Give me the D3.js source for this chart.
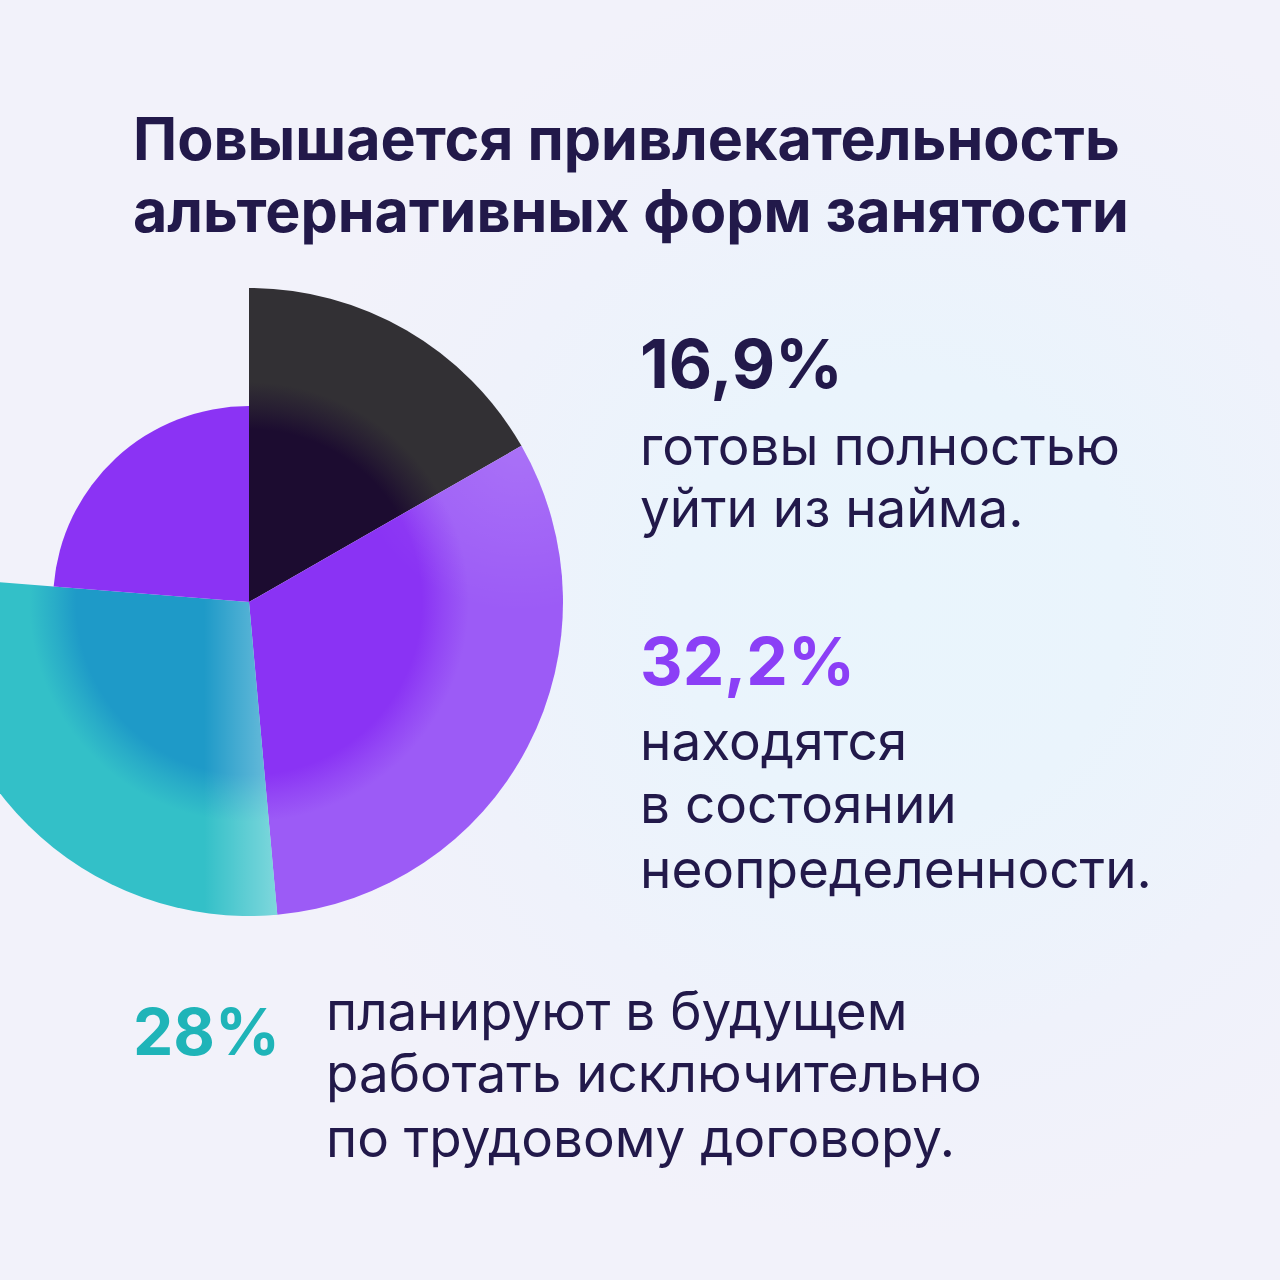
<!DOCTYPE html>
<html>
<head>
<meta charset="utf-8">
<script src="https://cdn.jsdelivr.net/npm/d3@7"></script>
<style>
  html, body { margin: 0; padding: 0; background: #f2f2fa; }
  svg { display: block; font-family: Inter, "Noto Sans", sans-serif; }
</style>
</head>
<body>
<script>
// shares of respondents (last slice is the unlabeled rest)
var categories = ["уйти из найма", "неопределенность", "трудовой договор", "прочие"];
var shares = [16.9, 32.2, 28, 24];
var shareLabels = ["16,9%", "32,2%", "28%"];

var titleLines = ["Повышается привлекательность", "альтернативных форм занятости"];
var note1 = ["готовы полностью", "уйти из найма."];
var note2 = ["находятся", "в состоянии", "неопределенности."];
var note3 = ["планируют в будущем", "работать исключительно", "по трудовому договору."];

var W = 1280, H = 1280;
var cx = 249, cy = 602;
var sliceRadius = [314, 314, 314, 196];
var inner = ["#1c0c30", "#8a33f4", "#1e9ac8", "#8b33f4"];
var outer = ["#323034", "#9c5bf6", "#33c0c8", "#8b33f4"];
var ink = "#22194a";

var svg = d3.select("body").append("svg")
  .attr("width", W)
  .attr("height", H);

var defs = svg.append("defs");

// background glow, kept soft
var bg = defs.append("radialGradient").attr("id", "bgGlow")
  .attr("gradientUnits", "userSpaceOnUse")
  .attr("cx", 900).attr("cy", 600).attr("r", 640);
bg.append("stop").attr("offset", 0).attr("stop-color", "#e9f5fc");
bg.append("stop").attr("offset", 0.35).attr("stop-color", "#eaf4fc");
bg.append("stop").attr("offset", 0.7).attr("stop-color", "#eff2fb");
bg.append("stop").attr("offset", 1).attr("stop-color", "#f2f2fa");

svg.append("rect").attr("width", W).attr("height", H).attr("fill", "#f2f2fa");
svg.append("rect").attr("width", W).attr("height", H).attr("fill", "url(#bgGlow)");

// one radial gradient per slice, dark core fading out
shares.forEach(function(d, i) {
  var g = defs.append("radialGradient").attr("id", "slice" + i)
    .attr("gradientUnits", "userSpaceOnUse")
    .attr("cx", 0).attr("cy", 0).attr("r", 314);
  g.append("stop").attr("offset", 0).attr("stop-color", inner[i]);
  g.append("stop").attr("offset", 0.55).attr("stop-color", inner[i]);
  g.append("stop").attr("offset", 0.62).attr("stop-color", d3.interpolateRgb(inner[i], outer[i])(0.5));
  g.append("stop").attr("offset", 0.7).attr("stop-color", outer[i]);
  g.append("stop").attr("offset", 1).attr("stop-color", outer[i]);
});

// light sheen on the teal slice next to the purple one
var sheen = defs.append("linearGradient").attr("id", "tealSheen")
  .attr("gradientUnits", "userSpaceOnUse")
  .attr("x1", -45).attr("y1", 0).attr("x2", 34).attr("y2", 0);
sheen.append("stop").attr("offset", 0).attr("stop-color", "#ffffff").attr("stop-opacity", 0);
sheen.append("stop").attr("offset", 1).attr("stop-color", "#ffffff").attr("stop-opacity", 0.4);

// sheen on the big purple slice under the dark one
var sheen2 = defs.append("radialGradient").attr("id", "purpleSheen")
  .attr("gradientUnits", "userSpaceOnUse")
  .attr("cx", 270).attr("cy", -160).attr("r", 170);
sheen2.append("stop").attr("offset", 0).attr("stop-color", "#ffffff").attr("stop-opacity", 0.14);
sheen2.append("stop").attr("offset", 1).attr("stop-color", "#ffffff").attr("stop-opacity", 0);

var pie = d3.pie().sort(null).value(function(d) { return d; });
var arcs = pie(shares);
var arc = d3.arc()
  .innerRadius(0)
  .outerRadius(function(d) { return sliceRadius[d.index]; });

var g = svg.append("g").attr("transform", "translate(" + cx + "," + cy + ")");

g.selectAll("path.slice")
  .data(arcs)
  .enter()
  .append("path")
  .attr("class", "slice")
  .attr("d", arc)
  .attr("fill", function(d) { return "url(#slice" + d.index + ")"; });

g.append("path").attr("d", arc(arcs[2])).attr("fill", "url(#tealSheen)");
g.append("path").attr("d", arc(arcs[1])).attr("fill", "url(#purpleSheen)");

// text helpers: fit a font size so the reference line reaches the given width
function block(lines, x, baselines, weight, color, refIndex, refWidth, size) {
  var t = svg.append("g");
  var items = t.selectAll("text").data(lines).enter().append("text")
    .attr("x", x)
    .attr("y", function(d, i) { return baselines[i]; })
    .attr("fill", color)
    .attr("font-weight", weight)
    .attr("font-size", size)
    .text(function(d) { return d; });
  var len = items.nodes()[refIndex].getComputedTextLength();
  var fs = size * refWidth / len;
  items.attr("font-size", fs);
  return items;
}

block(titleLines, 133, [160, 232], 700, ink, 0, 987, 58);

block([shareLabels[0]], 640, [388], 700, ink, 0, 203, 68);
block(note1, 640, [465, 527], 400, ink, 0, 480, 50);

block([shareLabels[1]], 640, [685], 700, "#8b3ff6", 0, 215, 68);
block(note2, 640, [760, 823, 888], 400, ink, 2, 512, 50);

block([shareLabels[2]], 133, [1055], 700, "#1fb4b8", 0, 147, 68);
block(note3, 326, [1030, 1092, 1157], 400, ink, 1, 656, 50);
</script>
</body>
</html>
